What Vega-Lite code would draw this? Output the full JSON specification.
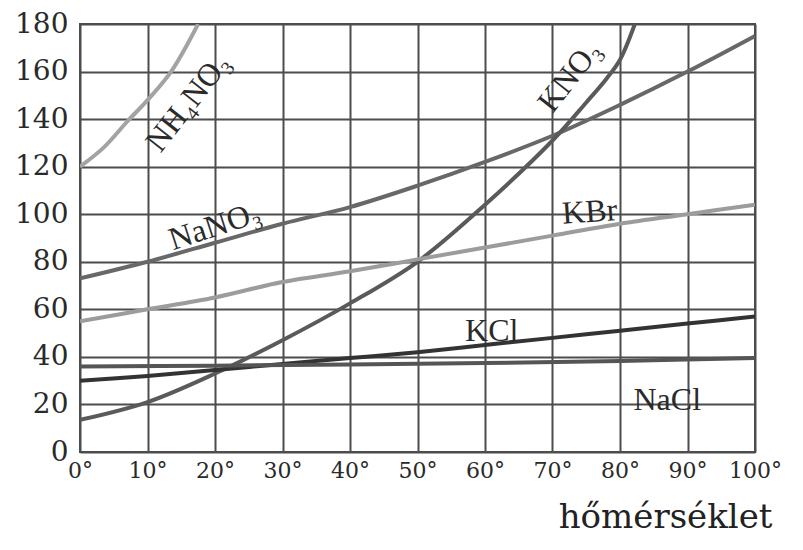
{
  "$schema": "https://vega.github.io/schema/vega-lite/v6.json",
  "width": 675,
  "height": 428,
  "autosize": {"type": "none"},
  "padding": {"left": 80, "top": 24, "right": 48, "bottom": 98},
  "background": "white",
  "config": {
    "view": {"stroke": "#4d4d4d", "strokeWidth": 2},
    "axis": {
      "grid": true,
      "gridColor": "#4d4d4d",
      "gridWidth": 2,
      "gridOpacity": 1,
      "domain": false,
      "ticks": false,
      "labelFont": "DejaVu Serif",
      "labelColor": "#2a2a2a",
      "labelFlush": false,
      "labelOverlap": false
    }
  },
  "datasets": {
    "curves": [
      {"series": "NH4NO3", "t": 0, "s": 120},
      {"series": "NH4NO3", "t": 3.5, "s": 128},
      {"series": "NH4NO3", "t": 7, "s": 139},
      {"series": "NH4NO3", "t": 10, "s": 148},
      {"series": "NH4NO3", "t": 13.5, "s": 160},
      {"series": "NH4NO3", "t": 17.5, "s": 180},
      {"series": "NaNO3", "t": 0, "s": 73},
      {"series": "NaNO3", "t": 10, "s": 80},
      {"series": "NaNO3", "t": 20, "s": 88},
      {"series": "NaNO3", "t": 30, "s": 96},
      {"series": "NaNO3", "t": 40, "s": 103},
      {"series": "NaNO3", "t": 50, "s": 112},
      {"series": "NaNO3", "t": 60, "s": 122},
      {"series": "NaNO3", "t": 70, "s": 133},
      {"series": "NaNO3", "t": 80, "s": 146},
      {"series": "NaNO3", "t": 90, "s": 160},
      {"series": "NaNO3", "t": 100, "s": 175},
      {"series": "KNO3", "t": 0, "s": 13.5},
      {"series": "KNO3", "t": 10, "s": 21},
      {"series": "KNO3", "t": 20, "s": 33},
      {"series": "KNO3", "t": 30, "s": 47},
      {"series": "KNO3", "t": 40, "s": 62.5},
      {"series": "KNO3", "t": 50, "s": 80},
      {"series": "KNO3", "t": 60, "s": 104},
      {"series": "KNO3", "t": 70, "s": 131},
      {"series": "KNO3", "t": 75, "s": 147},
      {"series": "KNO3", "t": 78, "s": 157},
      {"series": "KNO3", "t": 80, "s": 165},
      {"series": "KNO3", "t": 82.2, "s": 180},
      {"series": "KBr", "t": 0, "s": 55},
      {"series": "KBr", "t": 10, "s": 60},
      {"series": "KBr", "t": 20, "s": 65},
      {"series": "KBr", "t": 30, "s": 71.5},
      {"series": "KBr", "t": 40, "s": 76},
      {"series": "KBr", "t": 50, "s": 81},
      {"series": "KBr", "t": 60, "s": 86},
      {"series": "KBr", "t": 70, "s": 91},
      {"series": "KBr", "t": 80, "s": 96},
      {"series": "KBr", "t": 90, "s": 100},
      {"series": "KBr", "t": 100, "s": 104},
      {"series": "KCl", "t": 0, "s": 30},
      {"series": "KCl", "t": 10, "s": 32},
      {"series": "KCl", "t": 20, "s": 34.5},
      {"series": "KCl", "t": 30, "s": 37},
      {"series": "KCl", "t": 40, "s": 39.5},
      {"series": "KCl", "t": 50, "s": 42},
      {"series": "KCl", "t": 60, "s": 45},
      {"series": "KCl", "t": 70, "s": 48},
      {"series": "KCl", "t": 80, "s": 51},
      {"series": "KCl", "t": 90, "s": 54},
      {"series": "KCl", "t": 100, "s": 57},
      {"series": "NaCl", "t": 0, "s": 36},
      {"series": "NaCl", "t": 20, "s": 36.3},
      {"series": "NaCl", "t": 40, "s": 36.8},
      {"series": "NaCl", "t": 60, "s": 37.4},
      {"series": "NaCl", "t": 80, "s": 38.3},
      {"series": "NaCl", "t": 100, "s": 39.5}
    ],
    "labels": [
      {"name": "NH₄NO₃", "t": 16, "s": 147},
      {"name": "NaNO₃", "t": 20, "s": 95},
      {"name": "KNO₃", "t": 72.5, "s": 158},
      {"name": "KBr", "t": 75.5, "s": 101},
      {"name": "KCl", "t": 61, "s": 51},
      {"name": "NaCl", "t": 87, "s": 22}
    ]
  },
  "layer": [
    {
      "data": {"name": "curves"},
      "mark": {"type": "line", "interpolate": "catmull-rom", "strokeWidth": 4, "clip": true},
      "encoding": {
        "x": {
          "field": "t", "type": "quantitative",
          "scale": {"domain": [0, 100], "nice": false},
          "axis": {
            "values": [0, 10, 20, 30, 40, 50, 60, 70, 80, 90, 100],
            "labelExpr": "datum.value + '°'",
            "labelFontSize": 22,
            "labelPadding": 8,
            "title": "hőmérséklet",
            "titleFont": "DejaVu Serif",
            "titleFontSize": 34,
            "titleFontWeight": "normal",
            "titleColor": "#222222",
            "titleAnchor": "end",
            "titleAlign": "right",
            "titleBaseline": "alphabetic",
            "titleX": 692,
            "titleY": 75
          }
        },
        "y": {
          "field": "s", "type": "quantitative",
          "scale": {"domain": [0, 180], "nice": false},
          "axis": {
            "values": [0, 20, 40, 60, 80, 100, 120, 140, 160, 180],
            "labelFontSize": 28,
            "labelPadding": 12,
            "title": null
          }
        },
        "color": {
          "field": "series", "type": "nominal",
          "scale": {
            "domain": ["NH4NO3", "NaNO3", "KNO3", "KBr", "KCl", "NaCl"],
            "range": ["#a3a3a3", "#686868", "#5a5a5a", "#9c9c9c", "#333333", "#555555"]
          },
          "legend": null
        }
      }
    },
    {
      "data": {"name": "labels"},
      "transform": [{"filter": "datum.name == 'NH₄NO₃' || datum.name == 'KNO₃'"}],
      "mark": {"type": "text", "angle": -52, "font": "Liberation Serif", "fontSize": 32, "color": "#2a2a2a"},
      "encoding": {
        "x": {"field": "t", "type": "quantitative"},
        "y": {"field": "s", "type": "quantitative"},
        "text": {"field": "name"}
      }
    },
    {
      "data": {"name": "labels"},
      "transform": [{"filter": "datum.name == 'NaNO₃'"}],
      "mark": {"type": "text", "angle": -18, "font": "Liberation Serif", "fontSize": 32, "color": "#2a2a2a"},
      "encoding": {
        "x": {"field": "t", "type": "quantitative"},
        "y": {"field": "s", "type": "quantitative"},
        "text": {"field": "name"}
      }
    },
    {
      "data": {"name": "labels"},
      "transform": [{"filter": "datum.name == 'KBr'"}],
      "mark": {"type": "text", "angle": -4, "font": "Liberation Serif", "fontSize": 32, "color": "#2a2a2a"},
      "encoding": {
        "x": {"field": "t", "type": "quantitative"},
        "y": {"field": "s", "type": "quantitative"},
        "text": {"field": "name"}
      }
    },
    {
      "data": {"name": "labels"},
      "transform": [{"filter": "datum.name == 'KCl' || datum.name == 'NaCl'"}],
      "mark": {"type": "text", "font": "Liberation Serif", "fontSize": 32, "color": "#2a2a2a"},
      "encoding": {
        "x": {"field": "t", "type": "quantitative"},
        "y": {"field": "s", "type": "quantitative"},
        "text": {"field": "name"}
      }
    }
  ]
}
